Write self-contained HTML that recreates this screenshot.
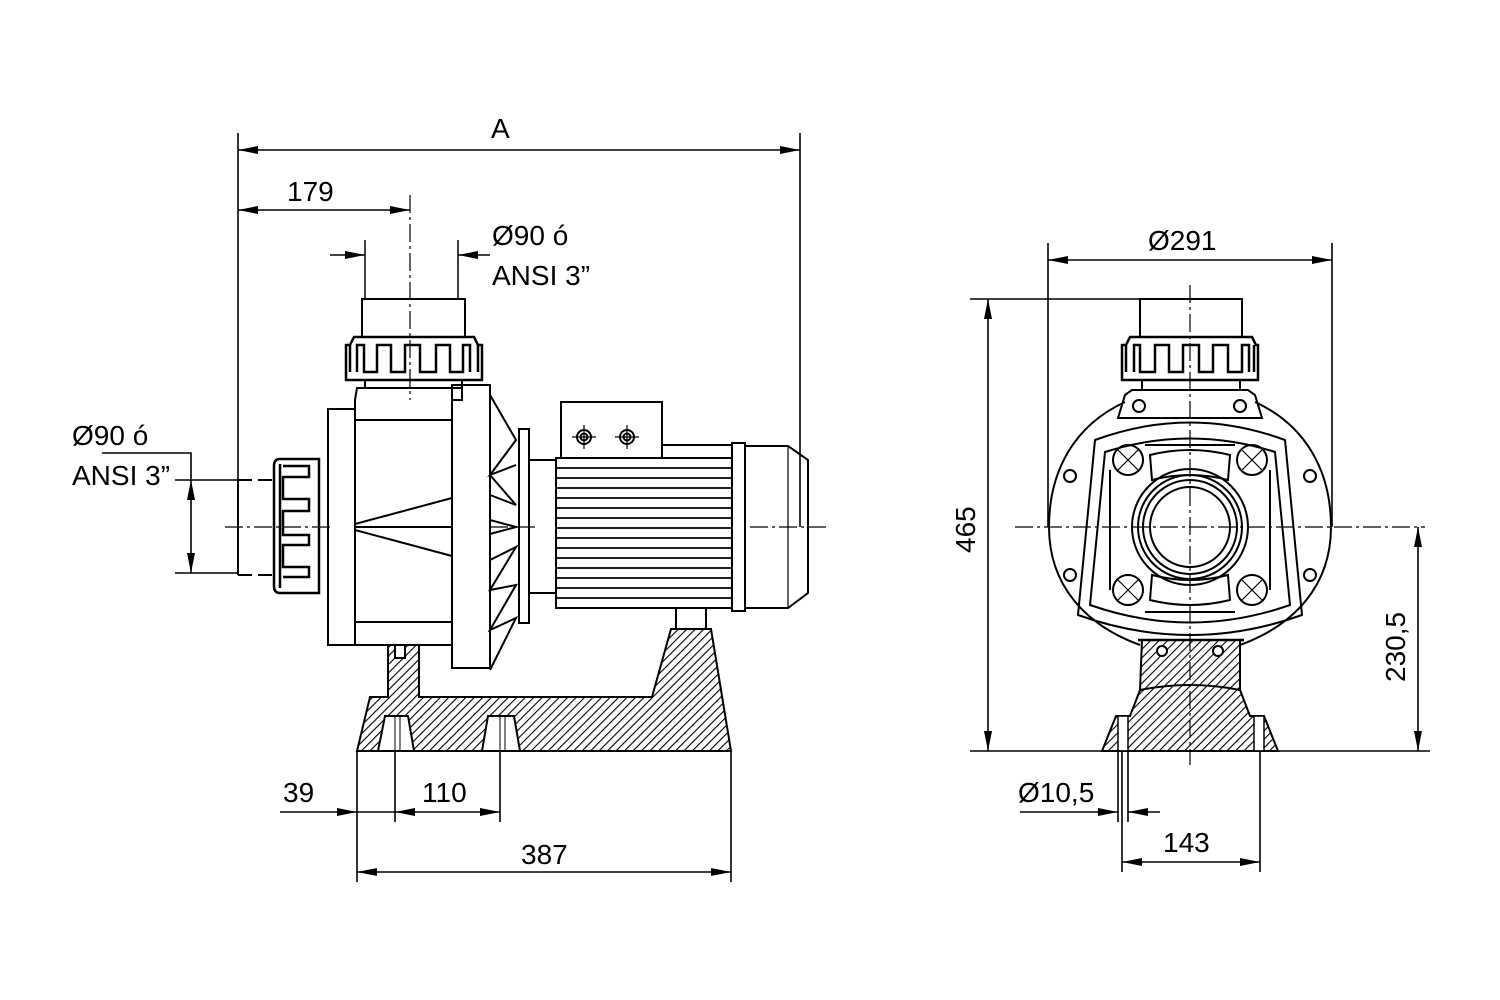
<!DOCTYPE html>
<html><head><meta charset="utf-8"><style>
html,body{margin:0;padding:0;background:#fff}
svg{display:block}
text{font-family:"Liberation Sans",Arial,sans-serif;font-size:28px;fill:#000}
</style></head><body>
<svg width="1500" height="1000" viewBox="0 0 1500 1000" xmlns="http://www.w3.org/2000/svg">
<defs>
<pattern id="h" width="6" height="6" patternUnits="userSpaceOnUse" patternTransform="rotate(45)">
<rect width="6" height="6" fill="#fff"/><line x1="0" y1="0" x2="0" y2="6" stroke="#000" stroke-width="2.2"/>
</pattern>
<marker id="ar" viewBox="0 0 20 8" refX="20" refY="4" markerWidth="20" markerHeight="8" markerUnits="userSpaceOnUse" orient="auto-start-reverse"><path d="M0,0 L20,4 L0,8 Z" fill="#000"/></marker>
</defs>
<g fill="none" stroke="#000" stroke-width="2">
<rect x="362" y="299" width="103" height="38"/>
<line x1="365" y1="240" x2="365" y2="299" stroke-width="1.5"/>
<line x1="458" y1="240" x2="458" y2="299" stroke-width="1.5"/>
<path d="M350,345 L354,337 L474,337 L478,345 L482,345 L482,380 L346,380 L346,345 Z" stroke-width="2.5"/>
<path d="M350,372 L350,345 M357,372 L357,345 L364,345 L364,372 L377,372 L377,345 L391,345 L391,372 L405,372 L405,345 L420,345 L420,372 L436,372 L436,345 L450,345 L450,372 L463,372 L463,345 L470,345 L470,372 M478,345 L478,372" stroke-width="2.5"/>
<rect x="365" y="380" width="97" height="8"/>
<path d="M357,388 L462,388 L462,400 L452,400 L452,645 L355,645 L355,400 Z"/>
<line x1="355" y1="420" x2="452" y2="420"/>
<line x1="355" y1="622" x2="452" y2="622"/>
<rect x="328" y="409" width="27" height="236"/>
<path d="M355,524 L452,498 M355,530 L452,556 M355,527 L452,527" />
<rect x="452" y="385" width="38" height="283"/>
<path d="M490,395 L516,440 L490,475 L516,465 M490,475 L516,505 L490,495 M490,520 L516,527 L490,534 M490,560 L516,547 L490,590 L516,585 L490,630 L516,618 L490,670"/>
<rect x="519" y="429" width="10" height="194"/>
<rect x="529" y="460" width="27" height="133"/>
<rect x="561" y="402" width="101" height="56"/>
<circle cx="584" cy="437" r="7"/><circle cx="584" cy="437" r="3.5"/>
<circle cx="627" cy="437" r="7"/><circle cx="627" cy="437" r="3.5"/>
<path d="M572,437 L596,437 M584,425 L584,449 M615,437 L639,437 M627,425 L627,449" stroke-width="1.2"/>
<rect x="556" y="458" width="176" height="150"/>
<path d="M662,445 L732,445" />
<g stroke-width="1.8">
<line x1="556" y1="468" x2="732" y2="468"/><line x1="556" y1="478" x2="732" y2="478"/><line x1="556" y1="488" x2="732" y2="488"/><line x1="556" y1="498" x2="732" y2="498"/><line x1="556" y1="508" x2="732" y2="508"/><line x1="556" y1="518" x2="732" y2="518"/><line x1="556" y1="528" x2="732" y2="528"/><line x1="556" y1="538" x2="732" y2="538"/><line x1="556" y1="548" x2="732" y2="548"/><line x1="556" y1="558" x2="732" y2="558"/><line x1="556" y1="568" x2="732" y2="568"/><line x1="556" y1="578" x2="732" y2="578"/><line x1="556" y1="588" x2="732" y2="588"/><line x1="556" y1="598" x2="732" y2="598"/>
</g>
<rect x="732" y="443" width="13" height="168"/>
<path d="M745,446 L788,446 L808,460 L808,593 L788,608 L745,608"/>
<line x1="788" y1="446" x2="788" y2="608" stroke-width="1.2"/>
<path d="M238,480 L238,575"/>
<path d="M238,480 L275,480 M238,575 L275,575" stroke-dasharray="14,6"/>
<path d="M280,459 L319,459 L319,593 L280,593 Q274,593 274,586 L274,466 Q274,459 280,459 Z" stroke-width="2.5"/>
<path d="M280,464 L280,588 M283,466 L309,466 L309,477 L283,477 L283,499 L309,499 L309,511 L283,511 L283,535 L309,535 L309,545 L283,545 L283,567 L309,567 L309,577 L283,577" stroke-width="2.5"/>
<path d="M388,645 L419,645 L419,697 L652,697 L671,629 L711,629 L731,751 L357,751 L370,697 L388,697 Z" fill="url(#h)"/>
<rect x="395" y="645" width="10" height="13" fill="#fff"/>
<rect x="676" y="608" width="30" height="21"/>
<path d="M385,716 L408,716 L414,751 L378,751 Z M488,716 L514,716 L520,751 L482,751 Z" fill="#fff"/>
<line x1="395" y1="716" x2="395" y2="751" stroke-width="1"/><line x1="400" y1="716" x2="400" y2="751" stroke-width="1"/>
<line x1="500" y1="716" x2="500" y2="751" stroke-width="1"/><line x1="505" y1="716" x2="505" y2="751" stroke-width="1"/>
<path d="M410,195 L410,400 M225,527 L330,527 M490,527 L535,527 M750,527 L830,527" stroke-width="1.2" stroke-dasharray="18,4,3,4"/>

<rect x="1140" y="299" width="102" height="38"/>
<path d="M1126,345 L1130,337 L1252,337 L1256,345 L1258,345 L1258,380 L1122,380 L1122,345 Z" stroke-width="2.5"/>
<path d="M1126,372 L1126,345 M1134,372 L1134,345 L1140,345 L1140,372 L1155,372 L1155,345 L1169,345 L1169,372 L1183,372 L1183,345 L1199,345 L1199,372 L1213,372 L1213,345 L1228,345 L1228,372 L1242,372 L1242,345 L1249,345 L1249,372 M1254,345 L1254,372" stroke-width="2.5"/>
<rect x="1142" y="380" width="98" height="10"/>
<path d="M1125,402 C1075,425 1049,470 1049,527 C1049,585 1085,625 1140,645 M1255,402 C1305,425 1331,470 1331,527 C1331,585 1295,625 1240,645"/>
<path d="M1125,395 L1132,390 L1248,390 L1255,395 L1262,418 L1118,418 Z"/>
<circle cx="1139" cy="406" r="6"/><circle cx="1240" cy="406" r="6"/>
<path d="M1095,440 Q1190,405 1285,440 L1302,615 Q1190,655 1078,615 Z"/>
<path d="M1105,452 Q1190,425 1275,452 L1290,605 Q1190,640 1090,605 Z"/>
<path d="M1110,470 L1110,590 M1270,470 L1270,590 M1145,445 L1235,445 M1145,612 L1235,612"/>
<path d="M1150,455 Q1190,445 1230,455 L1228,480 Q1190,470 1152,480 Z M1150,600 Q1190,610 1230,600 L1228,575 Q1190,585 1152,575 Z"/>
<circle cx="1190" cy="527" r="58"/><circle cx="1190" cy="527" r="52"/><circle cx="1190" cy="527" r="47"/><circle cx="1190" cy="527" r="40"/>
<g>
<circle cx="1128" cy="460" r="15"/><circle cx="1252" cy="460" r="15"/><circle cx="1128" cy="590" r="15"/><circle cx="1252" cy="590" r="15"/>
<path d="M1118,450 L1138,470 M1138,450 L1118,470 M1242,450 L1262,470 M1262,450 L1242,470 M1118,580 L1138,600 M1138,580 L1118,600 M1242,580 L1262,600 M1262,580 L1242,600" stroke-width="1.2"/>
<circle cx="1070" cy="476" r="6"/><circle cx="1310" cy="476" r="6"/><circle cx="1070" cy="575" r="6"/><circle cx="1310" cy="575" r="6"/>
</g>
<path d="M1142,640 L1240,640 L1240,690 L1250,716 L1264,716 L1278,751 L1102,751 L1116,716 L1130,716 L1140,690 Z" fill="url(#h)"/>
<path d="M1138,640 L1244,640" stroke-width="2.5"/>
<circle cx="1162" cy="651" r="5" fill="#fff"/><circle cx="1218" cy="651" r="5" fill="#fff"/>
<path d="M1140,690 Q1190,680 1240,690"/>
<rect x="1118" y="716" width="10" height="35" fill="#fff" stroke-width="1.5"/>
<rect x="1254" y="716" width="10" height="35" fill="#fff" stroke-width="1.5"/>
<path d="M1190,285 L1190,765 M1015,527 L1425,527" stroke-width="1.2" stroke-dasharray="18,4,3,4"/>

<g stroke-width="1.6">
<line x1="238" y1="133" x2="238" y2="480"/>
<line x1="800" y1="133" x2="800" y2="527"/>
<line x1="238" y1="150" x2="800" y2="150" marker-start="url(#ar)" marker-end="url(#ar)"/>
<line x1="238" y1="210" x2="410" y2="210" marker-start="url(#ar)" marker-end="url(#ar)"/>
<line x1="330" y1="255" x2="365" y2="255" marker-end="url(#ar)"/>
<line x1="458" y1="255" x2="490" y2="255" marker-start="url(#ar)"/>
<line x1="175" y1="480" x2="238" y2="480"/>
<line x1="175" y1="573" x2="238" y2="573"/>
<path d="M102,453 L191,453 L191,480"/>
<line x1="191" y1="480" x2="191" y2="573" marker-start="url(#ar)" marker-end="url(#ar)"/>
<line x1="357" y1="751" x2="357" y2="882"/>
<line x1="731" y1="751" x2="731" y2="882"/>
<line x1="395" y1="751" x2="395" y2="822"/>
<line x1="500" y1="751" x2="500" y2="822"/>
<line x1="280" y1="812" x2="357" y2="812" marker-end="url(#ar)"/>
<line x1="357" y1="812" x2="395" y2="812"/>
<line x1="395" y1="812" x2="500" y2="812" marker-start="url(#ar)" marker-end="url(#ar)"/>
<line x1="357" y1="872" x2="731" y2="872" marker-start="url(#ar)" marker-end="url(#ar)"/>
<line x1="1048" y1="243" x2="1048" y2="527"/>
<line x1="1332" y1="243" x2="1332" y2="527"/>
<line x1="1048" y1="260" x2="1332" y2="260" marker-start="url(#ar)" marker-end="url(#ar)"/>
<line x1="970" y1="299" x2="1140" y2="299"/>
<line x1="970" y1="751" x2="1430" y2="751"/>
<line x1="988" y1="299" x2="988" y2="751" marker-start="url(#ar)" marker-end="url(#ar)"/>
<line x1="1418" y1="527" x2="1418" y2="751" marker-start="url(#ar)" marker-end="url(#ar)"/>
<line x1="1118" y1="751" x2="1118" y2="822"/>
<line x1="1128" y1="751" x2="1128" y2="822"/>
<line x1="1122" y1="751" x2="1122" y2="872"/>
<line x1="1260" y1="751" x2="1260" y2="872"/>
<line x1="1020" y1="812" x2="1118" y2="812" marker-end="url(#ar)"/>
<line x1="1128" y1="812" x2="1160" y2="812" marker-start="url(#ar)"/>
<line x1="1122" y1="862" x2="1260" y2="862" marker-start="url(#ar)" marker-end="url(#ar)"/>
</g>
</g>
<g>
<text x="491" y="138">A</text>
<text x="287" y="201">179</text>
<text x="492" y="245">Ø90 ó</text>
<text x="492" y="285">ANSI 3”</text>
<text x="72" y="445">Ø90 ó</text>
<text x="72" y="485">ANSI 3”</text>
<text x="283" y="802">39</text>
<text x="422" y="802">110</text>
<text x="521" y="864">387</text>
<text x="1148" y="250">Ø291</text>
<text x="1018" y="802">Ø10,5</text>
<text x="1163" y="852">143</text>
<text transform="translate(975,553) rotate(-90)">465</text>
<text transform="translate(1405,682) rotate(-90)">230,5</text>
</g>
</svg>
</body></html>
